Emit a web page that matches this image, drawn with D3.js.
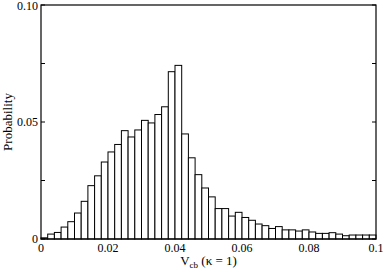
<!DOCTYPE html>
<html>
<head>
<meta charset="utf-8">
<script src="https://cdn.jsdelivr.net/npm/d3@7"></script>
<style>
body { margin: 0; background: #fff; }
text { font-family: "Liberation Serif", "DejaVu Serif", serif; }
</style>
</head>
<body>
<svg width="384" height="270"></svg>
<script>
// histogram of V_cb, 50 bins of width 0.002
const binWidth = 0.002;
const probs = [0.0005, 0.0021, 0.0028, 0.0051, 0.0074, 0.0111, 0.0161, 0.0228, 0.0270, 0.0329,
               0.0372, 0.0404, 0.0463, 0.0436, 0.0466, 0.0507, 0.0496, 0.0532, 0.0565, 0.0715,
               0.0742, 0.0449, 0.0347, 0.0275, 0.0218, 0.0180, 0.0130, 0.0130, 0.0098, 0.0114,
               0.0092, 0.0080, 0.0064, 0.0057, 0.0045, 0.0053, 0.0039, 0.0039, 0.0034, 0.0039,
               0.0030, 0.0024, 0.0024, 0.0027, 0.0021, 0.0014, 0.0017, 0.0017, 0.0017, 0.0017];
const xTicks = [0, 0.02, 0.04, 0.06, 0.08, 0.1];
const xTickLabels = ["0", "0.02", "0.04", "0.06", "0.08", "0.1"];
const yTicks = [0, 0.05, 0.10];
const yTickLabels = ["0", "0.05", "0.10"];
const yMinor = [0.025, 0.075];

const svg = d3.select("svg");
const mLeft = 41, mRight = 376, mTop = 5, mBottom = 239;

const x = d3.scaleLinear().domain([0, 0.1]).range([mLeft, mRight]);
const y = d3.scaleLinear().domain([0, 0.1]).range([mBottom, mTop]);

// bars
svg.append("g").selectAll("rect")
  .data(probs)
  .join("rect")
  .attr("x", (d, i) => x(i * binWidth))
  .attr("y", d => y(d))
  .attr("width", x(binWidth) - x(0))
  .attr("height", d => y(0) - y(d))
  .attr("fill", "white")
  .attr("stroke", "black")
  .attr("stroke-width", 1);

// frame
svg.append("rect").attr("x", mLeft).attr("y", mTop)
  .attr("width", mRight - mLeft).attr("height", mBottom - mTop)
  .attr("fill", "none").attr("stroke", "black").attr("stroke-width", 1.2);

// y ticks inward, both sides
const allY = yTicks.concat(yMinor);
svg.append("g").selectAll("line").data(allY).join("line")
  .attr("x1", mLeft).attr("x2", mLeft + 4)
  .attr("y1", d => y(d)).attr("y2", d => y(d))
  .attr("stroke", "black");
svg.append("g").selectAll("line").data(allY).join("line")
  .attr("x1", mRight).attr("x2", mRight - 4)
  .attr("y1", d => y(d)).attr("y2", d => y(d))
  .attr("stroke", "black");

// tick labels
svg.append("g").selectAll("text").data(yTicks).join("text")
  .attr("x", mLeft - 3).attr("y", d => Math.max(y(d) + 4, 10))
  .attr("text-anchor", "end").attr("font-size", 12)
  .text((d, i) => yTickLabels[i]);

svg.append("g").selectAll("text").data(xTicks).join("text")
  .attr("x", d => x(d)).attr("y", mBottom + 13)
  .attr("text-anchor", "middle").attr("font-size", 12)
  .text((d, i) => xTickLabels[i]);

// axis titles
svg.append("text")
  .attr("transform", "translate(12," + ((mTop + mBottom) / 2) + ") rotate(-90)")
  .attr("text-anchor", "middle").attr("font-size", 13)
  .text("Probability");

const xl = svg.append("text")
  .attr("x", (mLeft + mRight) / 2).attr("y", 265)
  .attr("text-anchor", "middle").attr("font-size", 13);
xl.append("tspan").text("V");
xl.append("tspan").attr("font-size", 9).attr("dy", 3).text("cb");
xl.append("tspan").attr("dy", -3).text(" (\u03ba = 1)");
</script>
</body>
</html>
